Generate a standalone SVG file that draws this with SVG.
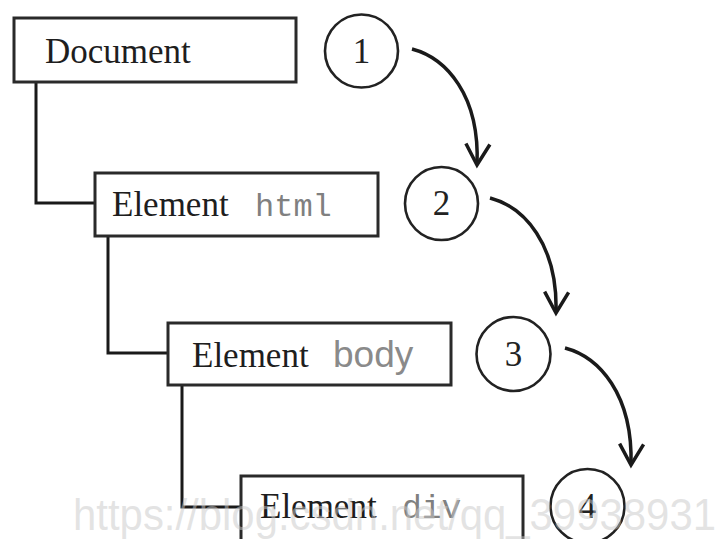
<svg xmlns="http://www.w3.org/2000/svg" width="721" height="539" viewBox="0 0 721 539">
<defs>
<style>
.box{fill:none;stroke:#2a2a2a;stroke-width:3}
.step{fill:none;stroke:#222;stroke-width:2.6}
.tree{fill:none;stroke:#1a1a1a;stroke-width:3}
.flow{fill:none;stroke:#1a1a1a;stroke-width:3.5}
.serif{font-family:"Liberation Serif","Times New Roman",serif;font-size:35px;fill:#1e1e1e}
.mono{font-family:"Liberation Mono","Courier New",monospace;font-size:32px;fill:#808080}
.sans{font-family:"Liberation Sans",Arial,sans-serif;font-size:37px;fill:#8a8a8a}
.num{font-family:"Liberation Serif","Times New Roman",serif;font-size:35px;fill:#222;text-anchor:middle}
.wm{font-family:"Liberation Sans",Arial,sans-serif;font-size:44px;fill:#c8c8c8;fill-opacity:0.5}
</style>
<marker id="arr" viewBox="-24 -14 28 28" refX="0" refY="0" markerWidth="28" markerHeight="28" markerUnits="userSpaceOnUse" orient="auto">
<path d="M-21,-12 L0,0 L-21,12" fill="none" stroke="#1a1a1a" stroke-width="3.5"/>
</marker>
</defs>
<rect width="721" height="539" fill="#fff"/>
<g id="connectors">
<path class="tree" d="M36,82 V203 H95"/>
<path class="tree" d="M108,236 V353 H168"/>
<path class="tree" d="M182,385 V507 H241"/>
<path class="flow" d="M412,49 C446,58 480,95 477,165" marker-end="url(#arr)"/>
<path class="flow" d="M490,198 C524,207 558,244 556,313" marker-end="url(#arr)"/>
<path class="flow" d="M565,348 C599,357 633,394 631,465" marker-end="url(#arr)"/>
</g>
<g id="node-document">
<rect class="box" x="14" y="18" width="282" height="64"/>
<text class="serif" x="45" y="63">Document</text>
</g>
<g id="node-html">
<rect class="box" x="95" y="173" width="283" height="63"/>
<text class="serif" x="112" y="216">Element</text>
<text class="mono" x="255" y="216">html</text>
</g>
<g id="node-body">
<rect class="box" x="168" y="323" width="283" height="62"/>
<text class="serif" x="192" y="367">Element</text>
<text class="sans" x="333" y="367">body</text>
</g>
<g id="node-div">
<rect class="box" x="241" y="476" width="282" height="66"/>
<text class="serif" x="260" y="518">Element</text>
<text class="mono" x="402" y="518" style="font-size:33px">div</text>
</g>
<g id="step-1">
<circle class="step" cx="361.5" cy="51" r="36.5"/>
<text class="num" x="361.5" y="63">1</text>
</g>
<g id="step-2">
<circle class="step" cx="441.5" cy="203.5" r="36.5"/>
<text class="num" x="441.5" y="215">2</text>
</g>
<g id="step-3">
<circle class="step" cx="513.5" cy="354" r="37"/>
<text class="num" x="513.5" y="366">3</text>
</g>
<g id="step-4">
<circle class="step" cx="587.5" cy="506" r="37"/>
<text class="num" x="587.5" y="518">4</text>
</g>
<text class="wm" x="73" y="530" textLength="643" lengthAdjust="spacingAndGlyphs">https://blog.csdn.net/qq_39938931</text>
</svg>
